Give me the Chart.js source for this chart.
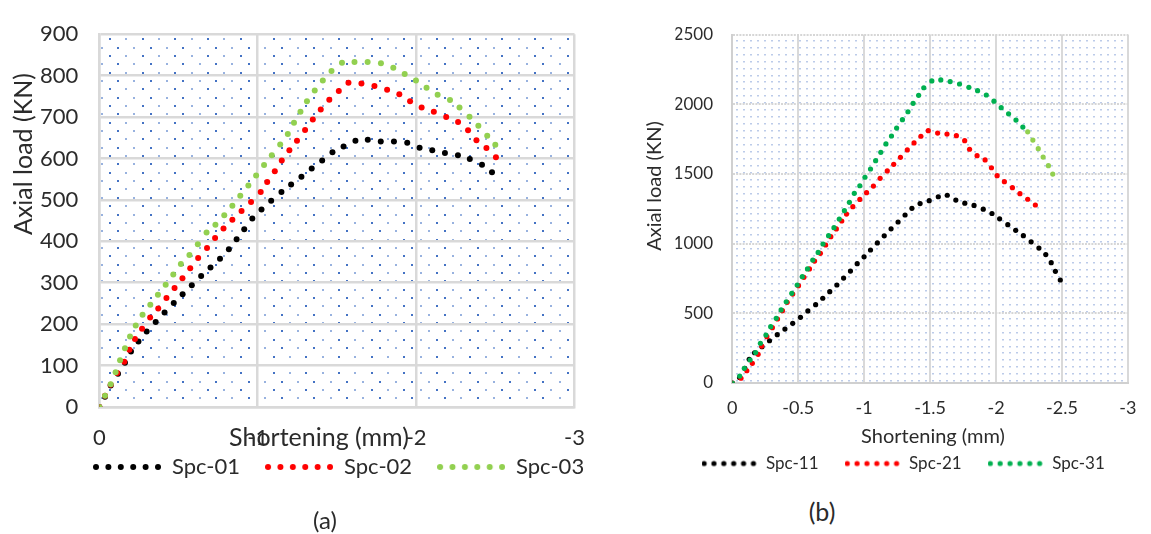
<!DOCTYPE html>
<html>
<head>
<meta charset="utf-8">
<script src="https://cdn.jsdelivr.net/npm/chart.js@4/dist/chart.umd.min.js"></script>
<style>
  html, body { margin: 0; padding: 0; background: #fff; width: 1151px; height: 534px; overflow: hidden; }
  canvas { position: absolute; top: 0; }
  .cap { position: absolute; font-family: Lato, "Open Sans", sans-serif; color: #2b2b2b;
         transform: translate(-50%, -50%); line-height: 1; white-space: nowrap; }
</style>
</head>
<body>
<canvas id="chartA" width="630" height="509" style="left:0"></canvas>
<canvas id="chartB" width="521" height="482" style="left:630px"></canvas>
<div class="cap" style="left:325px; top:520px; font-size:24px">(a)</div>
<div class="cap" style="left:822px; top:511px; font-size:25px">(b)</div>
<script>
// ---- Panel (a): axial load (KN) vs shortening (mm) ----
const spc01 = [[0,0],[-0.036,25],[-0.072,52],[-0.118,80],[-0.162,107],[-0.200,134],[-0.247,158],[-0.299,182],
  [-0.356,205],[-0.412,228],[-0.470,251],[-0.526,272],[-0.584,294],[-0.643,316],[-0.702,337],[-0.762,358],
  [-0.818,381],[-0.867,405],[-0.915,429],[-0.966,455],[-1.024,477],[-1.085,498],[-1.150,519],[-1.211,537],
  [-1.276,556],[-1.341,576],[-1.407,595],[-1.472,615],[-1.542,629],[-1.617,643],[-1.695,645],[-1.777,641],
  [-1.860,641],[-1.944,638],[-2.022,626],[-2.102,620],[-2.182,613],[-2.264,608],[-2.339,599],[-2.416,585],
  [-2.479,567]];
const spc02 = [[0,0],[-0.036,27],[-0.072,54],[-0.113,82],[-0.158,109],[-0.190,138],[-0.225,164],[-0.270,189],
  [-0.321,216],[-0.372,238],[-0.424,263],[-0.475,287],[-0.525,311],[-0.574,335],[-0.624,360],[-0.680,384],
  [-0.731,408],[-0.784,431],[-0.840,452],[-0.898,473],[-0.958,495],[-1.019,519],[-1.060,543],[-1.108,569],
  [-1.152,595],[-1.200,620],[-1.248,643],[-1.299,669],[-1.348,694],[-1.398,718],[-1.452,742],[-1.512,763],
  [-1.573,783],[-1.655,781],[-1.737,775],[-1.817,766],[-1.894,755],[-1.962,738],[-2.035,723],[-2.112,713],
  [-2.190,700],[-2.265,688],[-2.328,668],[-2.381,644],[-2.444,625],[-2.504,603]];
const spc03 = [[0,0],[-0.036,27],[-0.072,55],[-0.103,84],[-0.131,113],[-0.162,142],[-0.194,170],[-0.230,197],
  [-0.273,223],[-0.322,247],[-0.370,271],[-0.419,295],[-0.467,320],[-0.515,345],[-0.569,367],[-0.622,393],
  [-0.677,421],[-0.733,440],[-0.789,463],[-0.840,486],[-0.890,510],[-0.941,535],[-0.990,559],[-1.040,584],
  [-1.089,608],[-1.142,634],[-1.190,659],[-1.229,686],[-1.270,713],[-1.311,738],[-1.360,764],[-1.411,788],
  [-1.466,811],[-1.532,831],[-1.611,833],[-1.694,833],[-1.778,830],[-1.856,819],[-1.928,804],[-1.999,788],
  [-2.066,771],[-2.136,754],[-2.214,741],[-2.274,723],[-2.337,701],[-2.393,679],[-2.449,655],[-2.500,633]];
const xTicksA = ['0', '-1', '-2', '-3'];
const yTicksA = ['0','100','200','300','400','500','600','700','800','900'];

// ---- Panel (b) ----
const spc11 = [[0,0],[-0.055,40],[-0.095,105],[-0.128,170],[-0.169,217],[-0.225,260],[-0.282,303],[-0.341,347],
  [-0.399,387],[-0.458,428],[-0.517,471],[-0.573,517],[-0.632,562],[-0.686,608],[-0.739,655],[-0.793,703],
  [-0.844,753],[-0.896,803],[-0.947,856],[-0.999,905],[-1.048,954],[-1.100,1005],[-1.152,1056],[-1.204,1106],
  [-1.257,1155],[-1.310,1205],[-1.362,1253],[-1.424,1287],[-1.493,1308],[-1.562,1336],[-1.630,1347],
  [-1.695,1312],[-1.763,1290],[-1.833,1274],[-1.903,1247],[-1.969,1216],[-2.027,1178],[-2.089,1136],
  [-2.149,1095],[-2.207,1057],[-2.266,1013],[-2.325,968],[-2.377,921],[-2.418,863],[-2.450,801],[-2.487,739]];
const spc21 = [[0,0],[-0.066,34],[-0.110,88],[-0.152,141],[-0.196,206],[-0.223,265],[-0.262,332],[-0.304,397],
  [-0.343,459],[-0.380,519],[-0.416,579],[-0.458,638],[-0.502,698],[-0.543,758],[-0.585,818],[-0.624,875],
  [-0.668,930],[-0.708,990],[-0.747,1050],[-0.789,1105],[-0.830,1162],[-0.866,1212],[-0.914,1265],
  [-0.967,1317],[-1.018,1365],[-1.070,1413],[-1.121,1468],[-1.175,1521],[-1.224,1569],[-1.275,1619],
  [-1.327,1672],[-1.378,1722],[-1.430,1770],[-1.486,1810],[-1.557,1793],[-1.628,1786],[-1.699,1774],
  [-1.762,1738],[-1.799,1677],[-1.856,1631],[-1.917,1600],[-1.965,1544],[-2.008,1487],[-2.063,1444],
  [-2.124,1401],[-2.181,1358],[-2.240,1318],[-2.298,1277]];
const spc31 = [[0,0],[-0.056,50],[-0.091,105],[-0.135,165],[-0.177,218],[-0.213,285],[-0.255,344],[-0.291,404],
  [-0.333,464],[-0.370,524],[-0.409,583],[-0.451,643],[-0.492,703],[-0.531,763],[-0.570,818],[-0.610,882],
  [-0.651,937],[-0.688,997],[-0.730,1057],[-0.771,1114],[-0.811,1176],[-0.850,1236],[-0.888,1296],
  [-0.925,1361],[-0.967,1415],[-1.006,1476],[-1.048,1535],[-1.087,1595],[-1.126,1655],[-1.165,1715],
  [-1.207,1772],[-1.246,1829],[-1.290,1889],[-1.332,1946],[-1.371,2006],[-1.413,2064],[-1.452,2118],
  [-1.513,2167],[-1.581,2174],[-1.652,2162],[-1.723,2145],[-1.794,2121],[-1.860,2097],[-1.926,2066],
  [-1.984,2022],[-2.039,1975],[-2.095,1931],[-2.151,1886],[-2.203,1836],[-2.240,1802],[-2.279,1743],
  [-2.320,1681],[-2.357,1621],[-2.397,1559],[-2.430,1499]];
const xTicksB = ['0', '-0.5', '-1', '-1.5', '-2', '-2.5', '-3'];
const yTicksB = ['0', '500', '1000', '1500', '2000', '2500'];

// points of Spc-31 from this index on are drawn in the lighter green
const SPC31_LIGHT_FROM = 49;

const FONT = 'Lato, "Open Sans", sans-serif';
const TEXT = '#2b2b2b';

const pts = arr => arr.map(([x, y]) => ({ x, y }));
const fixedTicks = list => scale => { scale.ticks = list.map(t => ({ value: Number(t) })); };
const tickText = list => v => { const t = list.find(s => Number(s) === v); return t === undefined ? '' : t; };

// a short row of dots used as the legend key
function dotStrip(color, width, count, radius, step) {
  const c = document.createElement('canvas');
  c.width = width; c.height = Math.ceil(radius * 2 + 2);
  const g = c.getContext('2d');
  g.fillStyle = color;
  for (let i = 0; i < count; i++) {
    g.beginPath();
    g.arc(radius + i * step, c.height / 2, radius, 0, Math.PI * 2);
    g.fill();
  }
  return c;
}

// dotted fill behind the plot area
const dotFill = {
  id: 'dotFill',
  beforeDraw(chart, args, o) {
    const { ctx, chartArea: a } = chart;
    ctx.save();
    ctx.beginPath(); ctx.rect(a.left, a.top, a.width, a.height); ctx.clip();
    let row = 0;
    for (let y = a.top + o.y0; y < a.bottom; y += o.dy, row++) {
      let col = 0;
      for (let x = a.left + (row % 2 ? o.x1 : o.x0); x < a.right; x += o.dx, col++) {
        ctx.fillStyle = (o.color2 && (row + col) % 2) ? o.color2 : o.color;
        ctx.fillRect(Math.round(x - o.w / 2), Math.round(y - o.h / 2), o.w, o.h);
      }
    }
    ctx.restore();
  }
};

// axis captions placed freely on the canvas
const axisCaptions = {
  id: 'axisCaptions',
  afterDraw(chart, args, o) {
    const ctx = chart.ctx;
    for (const c of o.items) {
      ctx.save();
      ctx.translate(c.x, c.y);
      ctx.rotate(c.rotate || 0);
      ctx.font = c.size + 'px ' + FONT;
      ctx.fillStyle = TEXT;
      ctx.textAlign = 'center';
      ctx.textBaseline = 'middle';
      ctx.fillText(c.text, 0, 0);
      ctx.restore();
    }
  }
};

// moves the legend box after layout (used by panel a)
const legendPlace = {
  id: 'legendPlace',
  afterLayout(chart, args, o) {
    const l = chart.legend;
    if (!l || o.top === undefined) return;
    const h = l.height;
    l.left += o.dx; l.right += o.dx;
    l.top = o.top; l.bottom = o.top + h;
  }
};

function legendOpts(strips, size, pad, boxW) {
  return {
    position: 'bottom',
    align: 'start',
    labels: {
      usePointStyle: true,
      pointStyleWidth: boxW,
      padding: pad,
      color: TEXT,
      font: { family: FONT, size: size },
      sort: (a, b) => a.datasetIndex - b.datasetIndex,
      generateLabels(chart) {
        const items = Chart.defaults.plugins.legend.labels.generateLabels(chart);
        items.forEach(it => { it.pointStyle = strips[it.datasetIndex]; });
        return items;
      }
    }
  };
}

// ---------- chart (a) ----------
const stripsA = [dotStrip('#000000', 68, 6, 3, 12.4), dotStrip('#ff0000', 68, 6, 3, 12.4), dotStrip('#92d050', 68, 6, 3, 12.4)];
new Chart(document.getElementById('chartA'), {
  type: 'scatter',
  data: {
    datasets: [
      { label: 'Spc-01', data: pts(spc01), backgroundColor: '#000000', order: 2 },
      { label: 'Spc-02', data: pts(spc02), backgroundColor: '#ff0000', order: 1 },
      { label: 'Spc-03', data: pts(spc03), backgroundColor: '#92d050', order: 0 }
    ]
  },
  options: {
    responsive: false, animation: false, devicePixelRatio: 1, events: [],
    elements: { point: { radius: 3, borderWidth: 0, hoverRadius: 3 } },
    layout: { padding: { left: 0, top: 19.5, right: 55.5, bottom: 0 } },
    scales: {
      x: {
        type: 'linear', min: -3, max: 0, reverse: true,
        afterBuildTicks: fixedTicks(xTicksA),
        afterFit: s => { s.height = 45; },
        ticks: { autoSkip: false, maxRotation: 0, padding: 18, color: TEXT, font: { family: FONT, size: 22 }, callback: tickText(xTicksA) },
        grid: { color: '#d9d9d9', lineWidth: 2.5, drawTicks: false },
        border: { display: true, color: '#d9d9d9', width: 2.5 }
      },
      y: {
        type: 'linear', min: 0, max: 900,
        afterBuildTicks: fixedTicks(yTicksA),
        afterFit: s => { s.width = 99.3; },
        ticks: { autoSkip: false, padding: 21, color: TEXT, font: { family: FONT, size: 22 }, callback: tickText(yTicksA) },
        grid: { color: '#d9d9d9', lineWidth: 2.5, drawTicks: false },
        border: { display: true, color: '#d9d9d9', width: 2.5 }
      }
    },
    plugins: {
      tooltip: { enabled: false },
      legend: legendOpts(stripsA, 22, 25, 68),
      legendPlace: { dx: 68, top: 431 },
      dotFill: { y0: 5, dy: 8.35, x0: 10.7, x1: 2.4, dx: 16.35, w: 2, h: 2, color: '#4472c4', color2: 'rgba(68,114,196,0.55)' },
      axisCaptions: { items: [
        { text: 'Shortening (mm)', x: 319, y: 438, size: 25 },
        { text: 'Axial load (KN)', x: 24, y: 154, size: 25, rotate: -Math.PI / 2 }
      ] }
    }
  },
  plugins: [dotFill, axisCaptions, legendPlace]
});

// ---------- chart (b) ----------
const stripsB = [dotStrip('#000000', 56, 6, 2.6, 9.87), dotStrip('#ff0000', 56, 6, 2.6, 9.87), dotStrip('#00b050', 56, 6, 2.6, 9.87)];
new Chart(document.getElementById('chartB'), {
  type: 'scatter',
  data: {
    datasets: [
      { label: 'Spc-11', data: pts(spc11), backgroundColor: '#000000', order: 2 },
      { label: 'Spc-21', data: pts(spc21), backgroundColor: '#ff0000', order: 1 },
      { label: 'Spc-31', data: pts(spc31), backgroundColor: '#00b050', order: 0,
        pointBackgroundColor: spc31.map((p, i) => i >= SPC31_LIGHT_FROM ? '#92d050' : '#00b050') }
    ]
  },
  options: {
    responsive: false, animation: false, devicePixelRatio: 1, events: [],
    elements: { point: { radius: 2.6, borderWidth: 0, hoverRadius: 2.6 } },
    layout: { padding: { left: 45.5, top: 34.5, right: 10, bottom: 0 } },
    scales: {
      x: {
        type: 'linear', min: -3, max: 0, reverse: true,
        afterBuildTicks: fixedTicks(xTicksB),
        afterFit: s => { s.height = 46; },
        ticks: { autoSkip: false, maxRotation: 0, padding: 14.5, color: TEXT, font: { family: FONT, size: 18 }, callback: tickText(xTicksB) },
        grid: { color: '#d9d9d9', lineWidth: 2, drawTicks: false },
        border: { display: true, color: '#d0d0d0', width: 2 }
      },
      y: {
        type: 'linear', min: 0, max: 2500,
        afterBuildTicks: fixedTicks(yTicksB),
        afterFit: s => { s.width = 56.8; },
        ticks: { autoSkip: false, padding: 19.3, color: TEXT, font: { family: FONT, size: 17 }, callback: tickText(yTicksB) },
        grid: { color: '#d6d6d6', lineWidth: 2, drawTicks: false },
        border: { display: true, color: '#d0d0d0', width: 2, dash: [2, 1.2] }
      }
    },
    plugins: {
      tooltip: { enabled: false },
      legend: legendOpts(stripsB, 17, 26, 56),
      dotFill: { y0: 6, dy: 6.95, x0: 5, x1: 5, dx: 7, w: 2, h: 1.5, color: '#bccbe9' },
      axisCaptions: { items: [
        { text: 'Shortening (mm)', x: 303, y: 437, size: 20 },
        { text: 'Axial load (KN)', x: 25, y: 186, size: 20, rotate: -Math.PI / 2 }
      ] }
    }
  },
  plugins: [dotFill, axisCaptions]
});
</script>
</body>
</html>
